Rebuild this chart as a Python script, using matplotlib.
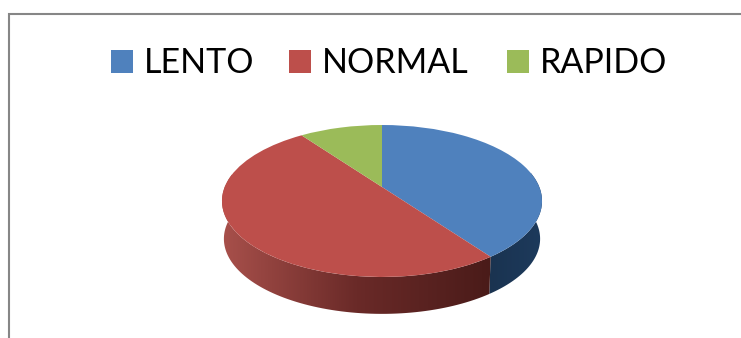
import numpy as np
import matplotlib
matplotlib.use('Agg')
import matplotlib.pyplot as plt
from matplotlib.patches import Polygon, Rectangle
from matplotlib.transforms import Transform

labels = ['LENTO', 'NORMAL', 'RAPIDO']
values = [40, 50, 10]
colors = ['#4F81BD', '#BD4F4B', '#9BBB59']

# tilted disc: unit circle -> pixels, far side comes out smaller
apex_x, apex_y = 382, 187
scale_x, scale_y, persp = 157.3, 73.4, 0.184
depth = 38


class Tilt(Transform):
    input_dims = 2
    output_dims = 2

    def __init__(self, drop=0, shrink=1.0):
        super().__init__()
        self.drop = drop
        self.shrink = shrink

    def transform_non_affine(self, xy):
        xy = np.asarray(xy)
        w = 1 + persp * xy[:, 1]
        px = apex_x + self.shrink * scale_x * xy[:, 0] / w
        py = apex_y + self.drop - self.shrink * scale_y * xy[:, 1] / w
        return np.column_stack([px, py])


fig = plt.figure(figsize=(7.41, 3.38), dpi=100)
ax = fig.add_axes([0, 0, 1, 1])

wedges, _ = ax.pie(values, colors=colors, startangle=90, counterclock=False)
top = Tilt()
for w in wedges:
    w.set_transform(top + ax.transData)
    w.set_zorder(5)
    w.set_linewidth(0)

ax.set_aspect('auto')
ax.set_xlim(0, 741)
ax.set_ylim(338, 0)
ax.axis('off')

# side wall, one piece per slice, only where it shows under the top
lower = Tilt(depth, 0.988)
edges = 90 - 360 * np.cumsum([0] + values) / sum(values)
wall_stops = [['#1D3A5C', '#1A3350'], ['#4A1B19', '#6A2A28', '#A8504B'], ['#9BBB59', '#9BBB59']]
for i in range(len(values)):
    t = np.radians(np.linspace(edges[i], edges[i + 1], 120))
    keep = np.sin(t) < 0.2
    if keep.sum() < 2:
        continue
    circle = np.column_stack([np.cos(t[keep]), np.sin(t[keep])])
    up = top.transform_non_affine(circle)
    down = lower.transform_non_affine(circle)
    poly = Polygon(np.vstack([up, down[::-1]]), closed=True, transform=ax.transData,
                   facecolor='none', edgecolor='none')
    ax.add_patch(poly)
    x0, x1 = min(up[:, 0].min(), down[:, 0].min()), max(up[:, 0].max(), down[:, 0].max())
    y0, y1 = min(up[:, 1].min(), down[:, 1].min()), max(up[:, 1].max(), down[:, 1].max())
    cmap = matplotlib.colors.LinearSegmentedColormap.from_list('wall', wall_stops[i])
    im = ax.imshow(np.linspace(1, 0, 256).reshape(1, -1), cmap=cmap, aspect='auto',
                   extent=[x0, x1, y1, y0], zorder=3, vmin=0, vmax=1)
    im.set_clip_path(poly)
ax.set_xlim(0, 741)
ax.set_ylim(338, 0)

# legend
legend_x = [111, 289, 507]
for name, col, lx in zip(labels, colors, legend_x):
    ax.add_patch(Rectangle((lx, 50), 22, 23, facecolor=col, edgecolor='none', zorder=6))
    ax.text(lx + 33, 73, name, fontsize=24.5, family='Lato', color='black',
            ha='left', va='baseline', zorder=6)

# chart frame, cut off by the crop on the right and bottom
ax.plot([8.5, 8.5, 741], [338, 14, 14], color='#868686', lw=1.5, solid_joinstyle='miter', zorder=7)

fig.savefig('out.png', dpi=100)
